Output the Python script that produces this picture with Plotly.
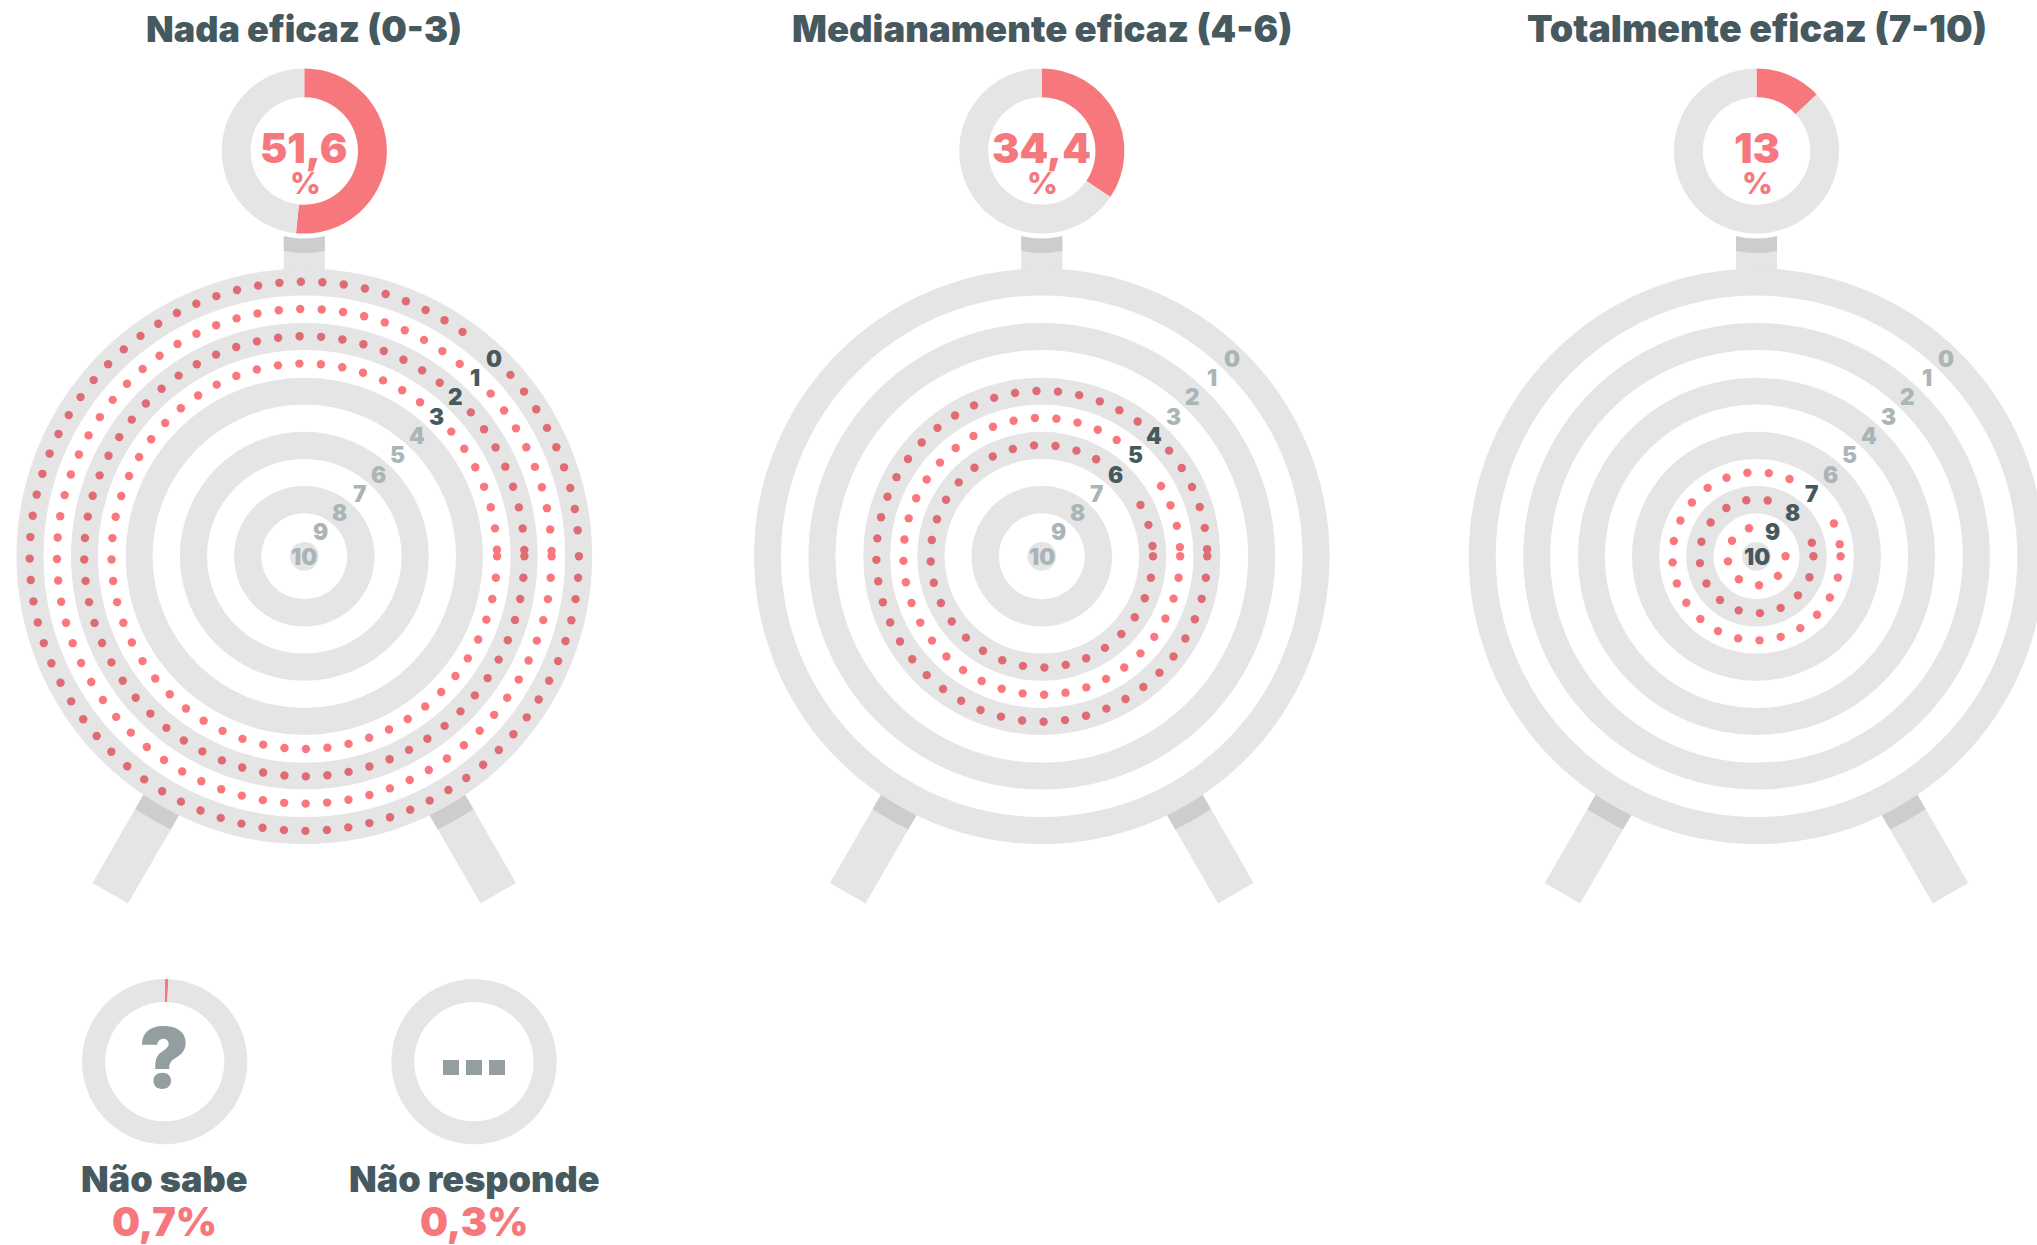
import numpy as np
import plotly.graph_objects as go

W, H = 2037, 1245

# ---- data ----
categories = ["Nada eficaz (0-3)", "Medianamente eficaz (4-6)", "Totalmente eficaz (7-10)"]
shares = [51.6, 34.4, 13.0]
share_labels = ["51,6", "34,4", "13"]
active_scores = [[0, 1, 2, 3], [4, 5, 6], [7, 8, 9, 10]]
ring_scores = [[0, 1, 2, 3], [4, 5, 6], [7, 8, 9]]
ring_dots = [[80, 73, 65, 57], [49, 41, 33], [25, 17, 9]]
other_labels = ["Não sabe", "Não responde"]
other_shares = [0.7, 0.0]
other_share_labels = ["0,7%", "0,3%"]
score_labels = list(range(11))

# ---- styles / layout constants ----
GRAY, SHADE, RED = "#E5E5E5", "#CDCDCD", "#F6787D"
DOT_ON_GRAY, DOT_ON_WHITE = "#DF6B73", "#F9777D"
INK, MUTED, GLYPH = "#46595F", "#ABB5B7", "#949EA1"
FONT = "Inter"
CX = [304.3, 1041.8, 1756.5]
CY = 556.3
DONUT_Y = 151.0
DONUT_R = 82.6
OTHER_X = [164.7, 474.0]
OTHER_Y = 1061.7
EDGES = [287.8, 260.8, 233.3, 206.3, 178.6, 151.7, 124.5, 97.3, 70.3, 43.0, 14.4]
BAND_R = [(EDGES[i] + EDGES[i + 1]) / 2 + 0.3 for i in range(10)]
STEP = 21.51


def label_xy(cx, s):
    if s == 10:
        return cx, CY
    return cx + 16.3 + (9 - s) * 19.27, CY - 24.4 - (9 - s) * 19.29


def poly(pts):
    return "M" + "L".join(f"{x:.2f},{y:.2f}" for x, y in pts) + "Z"


def arc(cx, cy, r, a0, a1, n=24):
    t = np.radians(np.linspace(a0, a1, n))
    return [(cx + r * np.cos(v), cy + r * np.sin(v)) for v in t]


shapes = []


def add(path, color):
    shapes.append(dict(type="path", path=path, fillcolor=color, line_width=0, layer="below"))


def circle(cx, cy, r, color):
    shapes.append(dict(type="circle", x0=cx - r, x1=cx + r, y0=cy - r, y1=cy + r,
                       fillcolor=color, line_width=0, layer="below"))


for cx in CX:
    # top post + donut shadow
    hw = 20.5
    a = np.degrees(np.arcsin(hw / 87.5))
    b = np.degrees(np.arcsin(hw / 102.0))
    add(poly(arc(cx, DONUT_Y, 87.5, 90 - a, 90 + a) + [(cx - hw, CY - 280), (cx + hw, CY - 280)]), GRAY)
    add(poly(arc(cx, DONUT_Y, 87.5, 90 - a, 90 + a) + arc(cx, DONUT_Y, 102.0, 90 + b, 90 - b)), SHADE)
    # legs
    for side in (-1, 1):
        ux, uy = 0.5 * -side, -0.866
        px, py = 0.866 * -side, 0.5
        A = (cx + side * 211.8, 883.0)
        B = (A[0] + px * 41, A[1] + py * 41)
        top = 120
        add(poly([A, B, (B[0] + ux * top, B[1] + uy * top), (A[0] + ux * top, A[1] + uy * top)]), GRAY)
        # shade: portion of the leg inside r = 304 around the target centre
        d = 304.0
        pts = []
        for Q in (A, B):
            ox, oy = Q[0] - cx, Q[1] - CY
            bq = ox * ux + oy * uy
            cq = ox * ox + oy * oy - d * d
            t = -bq - np.sqrt(bq * bq - cq)
            pts.append((Q[0] + ux * t, Q[1] + uy * t))
        a0 = np.degrees(np.arctan2(pts[0][1] - CY, pts[0][0] - cx))
        a1 = np.degrees(np.arctan2(pts[1][1] - CY, pts[1][0] - cx))
        add(poly(arc(cx, CY, d, a0, a1, 8)
                 + [(pts[1][0] + ux * 40, pts[1][1] + uy * 40), (pts[0][0] + ux * 40, pts[0][1] + uy * 40)]), SHADE)
    # target rings
    for i, r in enumerate(EDGES):
        circle(cx, CY, r, GRAY if i % 2 == 0 else "#FFFFFF")

# the three small squares of "Não responde"
for x0 in (443, 466, 489):
    shapes.append(dict(type="rect", x0=x0, x1=x0 + 16, y0=1060, y1=1075,
                       fillcolor=GLYPH, line_width=0, layer="below"))

fig = go.Figure()

# ---- dots on the rings ----
for cx, scores, counts in zip(CX, ring_scores, ring_dots):
    for s, n in zip(scores, counts):
        r = BAND_R[s]
        th = np.arange(n) * STEP / r
        xs = cx + r * np.cos(th)
        ys = CY + r * np.sin(th)
        lx, ly = label_xy(cx, s)
        keep = np.hypot(xs - lx, ys - ly) > 20
        fig.add_trace(go.Scatter(
            x=xs[keep], y=ys[keep], mode="markers", showlegend=False, hoverinfo="skip",
            marker=dict(size=8.4, color=DOT_ON_GRAY if s % 2 == 0 else DOT_ON_WHITE, line_width=0),
        ))


# ---- donuts ----
def donut(cx, cy, value, hole):
    fig.add_trace(go.Pie(
        values=[value, 100 - value], sort=False, direction="clockwise", rotation=0,
        hole=hole, textinfo="none", hoverinfo="skip", showlegend=False,
        marker=dict(colors=[RED, GRAY], line_width=0),
        domain=dict(x=[(cx - DONUT_R) / W, (cx + DONUT_R) / W],
                    y=[1 - (cy + DONUT_R) / H, 1 - (cy - DONUT_R) / H]),
    ))


for cx, v in zip(CX, shares):
    donut(cx, DONUT_Y, v, 0.65)
for cx, v in zip(OTHER_X, other_shares):
    donut(cx, OTHER_Y, v, 0.722)

# ---- text ----
ann = []


def text(x, y, s, size, color, weight=900):
    ann.append(dict(x=x, y=y, xref="x", yref="y", text=s, showarrow=False, xanchor="center", yanchor="middle",
                    font=dict(family=FONT, size=size, color=color, weight=weight)))


title_sizes = [36, 36.5, 37.5]
for cx, title, lab, actives, ts in zip(CX, categories, share_labels, active_scores, title_sizes):
    text(cx, 28.5, title, ts, INK)
    text(cx, 148, lab, 41, RED)
    text(cx + 1, 183, "%", 30, RED, 800)
    for s in score_labels:
        lx, ly = label_xy(cx, s)
        text(lx, ly, str(s), 22.5, INK if s in actives else MUTED)

text(163.8, 1057, "?", 84, GLYPH, 900)
for x, name, val in zip(OTHER_X, other_labels, other_share_labels):
    text(x, 1179, name, 36, INK)
    text(x, 1222, val, 39.5, RED)

fig.update_layout(
    width=W, height=H, margin=dict(l=0, r=0, t=0, b=0), paper_bgcolor="#FFFFFF", plot_bgcolor="#FFFFFF",
    xaxis=dict(range=[0, W], visible=False, fixedrange=True),
    yaxis=dict(range=[H, 0], visible=False, fixedrange=True),
    shapes=shapes, annotations=ann,
)
fig.write_html("out.html", config={"displayModeBar": False},
               post_script="document.body.style.margin='0';document.body.style.overflow='hidden';")
